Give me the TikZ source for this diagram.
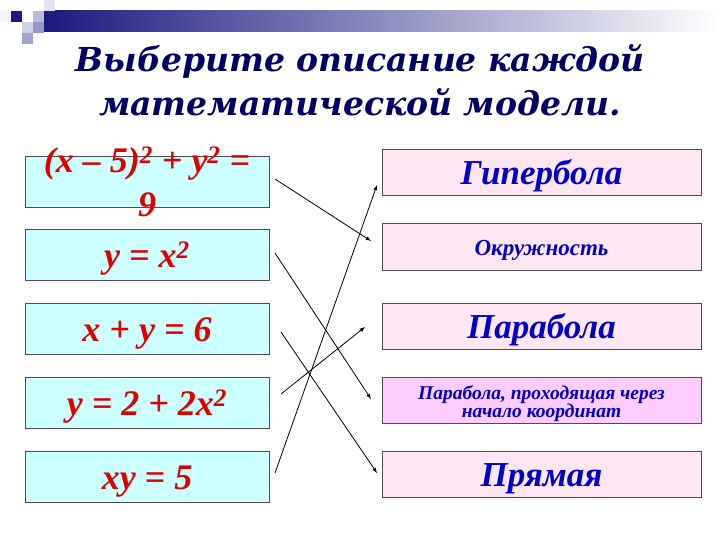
\documentclass[tikz,border=0pt]{standalone}
\usepackage{fontspec}
\setmainfont{Liberation Serif}
\newfontfamily\titlefont{DejaVu Serif}
\usetikzlibrary{shapes,arrows}
\usepackage{xcolor}
\definecolor{eqfill}{HTML}{CCFFFF}
\definecolor{namefill}{HTML}{FFE6F2}
\definecolor{namefillb}{HTML}{FFCCFF}
\definecolor{eqred}{HTML}{E00000}
\definecolor{nameblue}{HTML}{0000CC}
\definecolor{titleblue}{HTML}{000066}
\definecolor{barblue}{HTML}{1A1A80}
\definecolor{edgegray}{HTML}{4D4D4D}
\begin{document}
\begin{tikzpicture}[x=1pt,y=-1pt,
					eqbox/.style={draw=edgegray, fill=eqfill, line width=1pt, minimum width=244pt, minimum height=51pt, inner sep=0pt, text height=25pt, text depth=0pt, text=eqred, font=\fontsize{36}{44}\selectfont\bfseries\itshape},
					namebox/.style={draw=edgegray, fill=namefill, line width=1pt, minimum width=319pt, minimum height=46pt, inner sep=0pt, text height=24pt, text depth=0pt, text=nameblue, font=\fontsize{35}{40}\selectfont\bfseries\itshape}]
    \useasboundingbox (0,0) rectangle (720,540);
    % Header bar
    \shade[left color=barblue, right color=white] (44,11) rectangle (720,32);
    \fill[black!8!blue!4] (0,11) rectangle (11,22);
    \fill[barblue] (11,11) rectangle (22,22);
    \fill[barblue!30] (33,11) rectangle (44,22);
    \fill[barblue!12] (44,0) rectangle (55,11);
    \fill[barblue!20] (22,22) rectangle (33,33);
    \fill[barblue!45] (33,22) rectangle (44,33);
    \fill[barblue!40] (22,33) rectangle (33,44);
    % Title
    \node[text=titleblue, align=center, font=\titlefont\fontsize{33}{44}\selectfont\bfseries\itshape] (title) at (360,80)
    	{Выберите описание каждой\\ математической модели.};
    % Place nodes
    \node [eqbox] (eq1) at (147,182){};
    \node [text=eqred, align=center, font=\fontsize{36}{44}\selectfont\bfseries\itshape] (eq1txt) at (147,182)
    	{(x – 5)\textsuperscript{2} + y\textsuperscript{2} =\\ 9};
    \node [eqbox] (eq2) at (147,255){y = x\textsuperscript{2}};
    \node [eqbox] (eq3) at (147,329){x + y = 6};
    \node [eqbox] (eq4) at (147,403){y = 2 + 2x\textsuperscript{2}};
    \node [eqbox] (eq5) at (147,477){xy = 5};
    \node [namebox] (nm1) at (541.5,173){Гипербола};
    \node [namebox, text height=16pt, font=\fontsize{23}{26}\selectfont\bfseries\itshape] (nm2) at (541.5,247){Окружность};
    \node [namebox] (nm3) at (541.5,326.5){Парабола};
    \node [namebox, fill=namefillb] (nm4) at (541.5,400.5){};
    \node [text=nameblue, align=center, font=\fontsize{19.5}{18}\selectfont\bfseries\itshape] (nm4txt) at (541.5,403.5)
    	{Парабола, проходящая через\\ начало координат};
    \node [namebox] (nm5) at (541.5,474.5){Прямая};
    % Arrow ends
    \coordinate (s1) at (275,179);
    \coordinate (t1) at (371,241);
    \coordinate (s2) at (275,253);
    \coordinate (t2) at (371,399);
    \coordinate (s3) at (281,332);
    \coordinate (t3) at (377,473);
    \coordinate (s4) at (281,394);
    \coordinate (t4) at (365,327);
    \coordinate (s5) at (275,473);
    \coordinate (t5) at (377,185);
    % Draw edges
    \draw[line width=0.8pt,-latex] (s1) -- (t1);
    \draw[line width=0.8pt,-latex] (s2) -- (t2);
    \draw[line width=0.8pt,-latex] (s3) -- (t3);
    \draw[line width=0.8pt,-latex] (s4) -- (t4);
    \draw[line width=0.8pt,-latex] (s5) -- (t5);
\end{tikzpicture}
\end{document}
